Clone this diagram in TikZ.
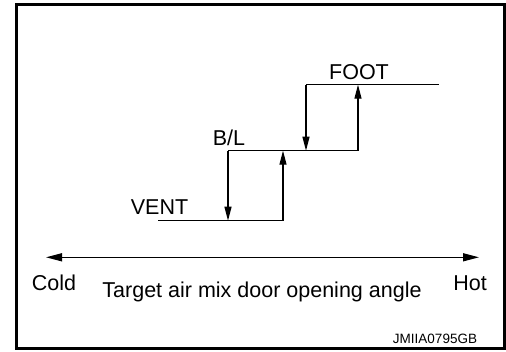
\documentclass[tikz,border=0pt]{standalone}
\usepackage{fontspec}
\setmainfont{Liberation Sans}
\usetikzlibrary{arrows.meta}
\begin{document}
\begin{tikzpicture}[x=1pt,y=-1pt,
  stepline/.style={line width=1.2pt},
  uparrow/.style={line width=1.2pt,-{Triangle[length=14pt,width=7pt]}},
  axisline/.style={line width=1.4pt,{Triangle[length=16pt,width=8pt]}-{Triangle[length=16pt,width=8pt]}},
  lbl/.style={inner sep=0pt,font=\fontsize{21.5}{24}\selectfont},
  small/.style={inner sep=0pt,font=\fontsize{13.5}{15}\selectfont}]
\useasboundingbox (0,0) rectangle (506,351);
\fill[white] (0,0) rectangle (506,351);
\draw[line width=2.4pt] (16.5,4.5) rectangle (504.5,348.5);
% corners
\coordinate (v0) at (158,220.7);
\coordinate (v1) at (228,220.7);
\coordinate (v2) at (283,220.7);
\coordinate (b0) at (228,150.7);
\coordinate (b1) at (283,150.7);
\coordinate (b2) at (306,150.7);
\coordinate (b3) at (358,150.7);
\coordinate (f0) at (306,84.7);
\coordinate (f1) at (358,84.7);
\coordinate (f2) at (439,84.7);
% lines
\draw[stepline] (v0) -- (v2);
\draw[stepline] (b0) -- (b3);
\draw[stepline] (f0) -- (f2);
\draw[uparrow] (v2) -- (b1);
\draw[uparrow] (b0) -- (v1);
\draw[uparrow] (b3) -- (f1);
\draw[uparrow] (f0) -- (b2);
% labels
\node[lbl] (vent) at (159.5,207.5) {VENT};
\node[lbl] (bl) at (229,137.5) {B/L};
\node[lbl] (foot) at (359,72) {FOOT};
% axis
\coordinate (a0) at (46,257.3);
\coordinate (a1) at (479,257.3);
\draw[axisline] (a0) -- (a1);
\node[lbl] (cold) at (54,283) {Cold};
\node[lbl] (hot) at (470,283) {Hot};
\node[lbl] (title) at (262,292) {Target air mix door opening angle};
\node[small] (code) at (435,339) {JMIIA0795GB};
\end{tikzpicture}
\end{document}
